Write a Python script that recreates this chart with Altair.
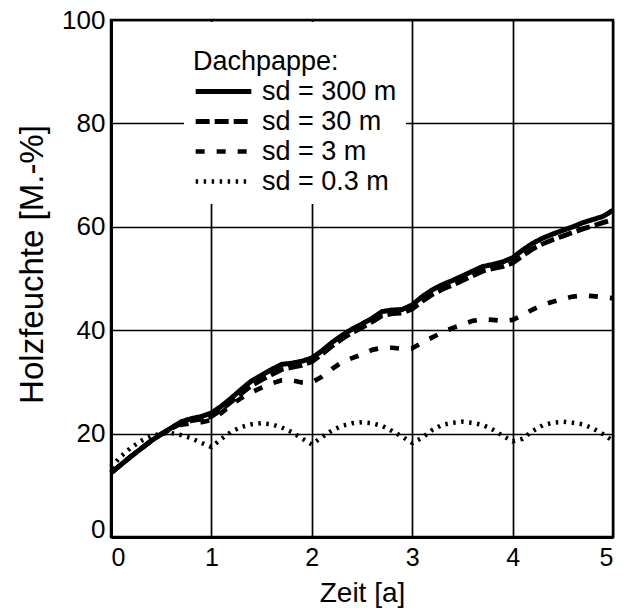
import altair as alt
import pandas as pd

# Zeit [a]
zeit = [0.0, 0.1, 0.2, 0.3, 0.4, 0.5, 0.6, 0.7, 0.8, 0.9,
        1.0, 1.1, 1.2, 1.3, 1.4, 1.5, 1.6, 1.7, 1.8, 1.9,
        2.0, 2.1, 2.2, 2.3, 2.4, 2.5, 2.6, 2.7, 2.8, 2.9,
        3.0, 3.1, 3.2, 3.3, 3.4, 3.5, 3.6, 3.7, 3.8, 3.9,
        4.0, 4.1, 4.2, 4.3, 4.4, 4.5, 4.6, 4.7, 4.8, 4.9, 5.0]

# Holzfeuchte [M.-%] for each Dachpappe sd value
sd_300 = [12.4, 14.0, 15.6, 17.1, 18.6, 19.9, 21.1, 22.3, 22.9, 23.3,
          24.0, 25.3, 26.9, 28.6, 30.2, 31.3, 32.4, 33.4, 33.6, 34.0,
          34.6, 36.0, 37.6, 39.0, 40.2, 41.2, 42.3, 43.6, 43.9, 44.0,
          44.9, 46.5, 47.8, 48.8, 49.6, 50.5, 51.4, 52.3, 52.7, 53.2,
          54.0, 55.5, 56.8, 57.8, 58.6, 59.3, 60.0, 60.8, 61.4, 62.0, 63.2]
sd_30 = [12.4, 14.0, 15.6, 17.1, 18.6, 19.9, 21.0, 22.0, 22.5, 22.8,
         23.3, 24.6, 26.2, 27.8, 29.3, 30.4, 31.4, 32.4, 32.8, 33.2,
         33.9, 35.3, 36.9, 38.3, 39.5, 40.5, 41.6, 42.8, 43.2, 43.3,
         44.1, 45.6, 46.9, 47.9, 48.7, 49.6, 50.5, 51.4, 51.9, 52.3,
         53.0, 54.4, 55.7, 56.7, 57.5, 58.2, 58.9, 59.6, 60.2, 60.8, 61.4]
sd_3 = [12.4, 14.0, 15.6, 17.1, 18.6, 19.9, 20.9, 21.7, 22.0, 22.2,
        22.6, 24.0, 25.6, 26.9, 28.0, 28.9, 29.7, 30.3, 30.3, 29.9,
        29.9, 31.0, 32.5, 33.8, 34.6, 35.3, 36.2, 36.6, 36.6, 36.4,
        36.5, 37.6, 38.6, 39.6, 40.4, 41.1, 41.8, 42.1, 42.0, 41.8,
        42.0, 42.9, 44.0, 44.9, 45.5, 46.0, 46.5, 46.7, 46.6, 46.4, 46.2]
sd_03 = [13.5, 15.6, 17.3, 18.6, 19.5, 20.0, 20.1, 19.7, 19.1, 18.2,
         17.4, 19.0, 20.4, 21.3, 21.8, 22.0, 21.8, 21.2, 20.3, 19.1,
         17.9, 19.3, 20.6, 21.5, 22.0, 22.2, 22.0, 21.5, 20.5, 19.4,
         18.2, 19.2, 20.7, 21.7, 22.1, 22.3, 22.1, 21.7, 20.8, 19.6,
         18.5, 19.0, 20.5, 21.6, 22.1, 22.3, 22.1, 21.8, 21.0, 19.9, 18.6]

serien = ["sd = 300 m", "sd = 30 m", "sd = 3 m", "sd = 0.3 m"]
x_ticks = [0, 1, 2, 3, 4, 5]
y_ticks = [0, 20, 40, 60, 80, 100]

rows = []
for name, vals in zip(serien, [sd_300, sd_30, sd_3, sd_03]):
    for t, v in zip(zeit, vals):
        rows.append({"Zeit": t, "Holzfeuchte": v, "Serie": name})
df = pd.DataFrame(rows)

FONT = "Liberation Sans"

legend = alt.Legend(
    title=["", "Dachpappe:"],
    orient="none", legendX=73, legendY=2,
    fillColor="white", padding=9,
    titleFont=FONT, titleFontSize=27, titleFontWeight="normal", titleColor="black",
    titleLineHeight=18, titlePadding=2,
    labelFont=FONT, labelFontSize=27, labelColor="black", labelOffset=8,
    symbolType="stroke", symbolSize=3100, symbolStrokeColor="black",
    clipHeight=27, rowPadding=2,
)

chart = alt.Chart(df).mark_line(color="black", strokeCap="butt", strokeJoin="round").encode(
    x=alt.X("Zeit:Q",
            scale=alt.Scale(domain=[0, 5], nice=False, zero=False),
            axis=alt.Axis(values=x_ticks, title="Zeit [a]", format="d",
                          labelFont=FONT, labelFontSize=25, labelColor="black",
                          labelPadding=8, ticks=False, tickSize=0,
                          domainColor="black", domainWidth=3,
                          gridColor="black", gridWidth=1.7, gridOpacity=1,
                          titleFont=FONT, titleFontSize=28, titleFontWeight="normal",
                          titleColor="black", titleY=42)),
    y=alt.Y("Holzfeuchte:Q",
            scale=alt.Scale(domain=[0, 100], nice=False),
            axis=alt.Axis(values=y_ticks, title="Holzfeuchte [M.-%]", format="d",
                          labelFont=FONT, labelFontSize=26, labelColor="black",
                          labelPadding=6, ticks=False, tickSize=0,
                          labelBaseline={"condition": {"test": "datum.value == 0", "value": "alphabetic"},
                                         "value": "middle"},
                          domainColor="black", domainWidth=3,
                          gridColor="black", gridWidth=1.7, gridOpacity=1,
                          titleFont=FONT, titleFontSize=33, titleFontWeight="normal",
                          titleColor="black", titleAngle=270, titleBaseline="middle",
                          titleAlign="center", titleX=-79, titleY=244)),
    strokeDash=alt.StrokeDash("Serie:N",
                              scale=alt.Scale(domain=serien,
                                              range=[[1, 0], [14, 5], [9, 12], [2.5, 5.5]]),
                              legend=legend),
    strokeWidth=alt.StrokeWidth("Serie:N",
                                scale=alt.Scale(domain=serien, range=[5, 4.5, 4.5, 3.5]),
                                legend=legend),
).properties(
    width=502, height=517,
    autosize=alt.AutoSizeParams(type="none"),
    padding={"left": 111, "top": 20, "right": 18, "bottom": 71},
    background="white",
).configure_view(
    stroke="black", strokeWidth=2.5
)

chart.save("out.html", embed_options={"renderer": "svg", "actions": False})
